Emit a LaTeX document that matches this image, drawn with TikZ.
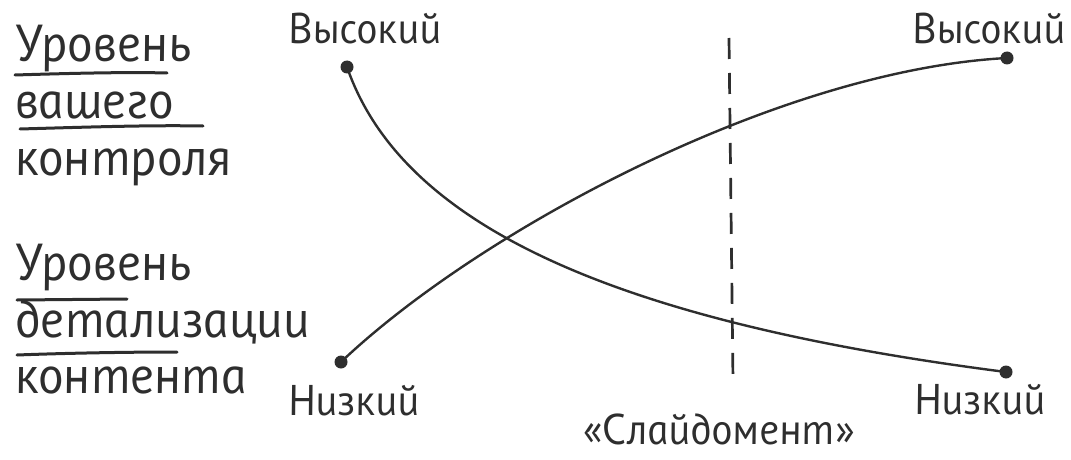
\documentclass[tikz,border=0pt]{standalone}
\usepackage{fontspec}
\newfontfamily\handfont{PT Sans Italic}[FakeSlant=-0.2]
\usetikzlibrary{positioning}
\definecolor{pencil}{HTML}{2E2E2E}
\tikzset{title/.style={font=\handfont\fontsize{52}{56}\selectfont,text=pencil,anchor=base west,inner sep=0pt},lbl/.style={font=\handfont\fontsize{43}{48}\selectfont,text=pencil,anchor=base west,inner sep=0pt},dot/.style={circle,fill=pencil,minimum size=13pt,inner sep=0pt},curve/.style={draw=pencil,line width=2.4pt,line cap=round},uline/.style={draw=pencil,line width=3pt,line cap=round},cut/.style={draw=pencil,line width=2.7pt,dash pattern=on 21pt off 14pt}}

\begin{document}
\begin{tikzpicture}[x=1pt,y=-1pt]
\useasboundingbox (0,0) rectangle (1071,460);

\node[title] (ctrlA) at (17,62) {Уровень};
\node[title] (ctrlB) at (17,118) {вашего};
\node[title] (ctrlC) at (17,175) {контроля};
\node[title] (detA) at (17,280) {Уровень};
\node[title] (detB) at (17,337) {детализации};
\node[title] (detC) at (17,393) {контента};
\draw[uline] (15,75) .. controls (80,73) and (130,72) .. (167,73);
\draw[uline] (20,129) .. controls (90,127) and (150,125) .. (203,126);
\draw[uline] (17,300) -- (127,299);
\draw[uline] (17,355) .. controls (70,353) and (130,352) .. (177,352);

\node[lbl] (hiL) at (290,44) {Высокий};
\node[lbl] (hiR) at (914,44) {Высокий};
\node[lbl] (loL) at (290,415) {Низкий};
\node[lbl] (loR) at (916,414) {Низкий};
\node[lbl] (slide) at (585,444) {«Слайдомент»};

\node[dot] (topL) at (347,67) {};
\node[dot] (botL) at (341,362) {};
\node[dot] (topR) at (1007,58) {};
\node[dot] (botR) at (1006,372) {};
\draw[curve] (topL.center) .. controls (400,220) and (600,320) .. (botR.center);
\draw[curve] (botL.center) .. controls (480,230) and (780,70) .. (topR.center);

\coordinate (cutT) at (729,38);
\coordinate (cutB) at (733,381);
\draw[cut] (cutT) -- (cutB);
\end{tikzpicture}
\end{document}
